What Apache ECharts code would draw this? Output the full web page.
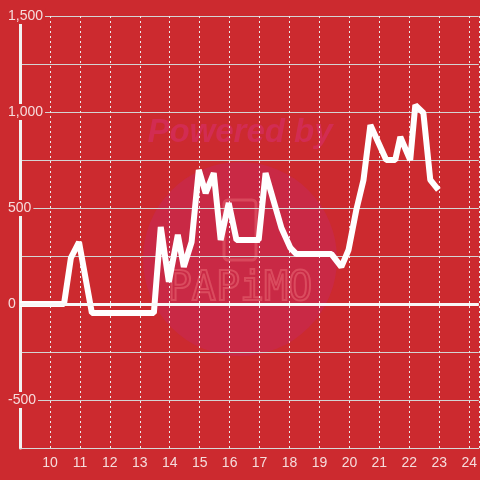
<!DOCTYPE html>
<html>
<head>
<meta charset="utf-8">
<script src="https://cdn.jsdelivr.net/npm/echarts@6/dist/echarts.min.js"></script>
<style>html,body{margin:0;padding:0;background:#cc2a2f;}#c{width:480px;height:480px;}</style>
</head>
<body>
<div id="c"></div>
<script>
var hours = [9.0, 10.47, 10.7, 10.97, 11.4, 13.47, 13.7, 13.97, 14.27, 14.47, 14.73, 14.97, 15.2, 15.47, 15.7, 15.97, 16.23, 16.97, 17.2, 17.73, 18.03, 18.23, 19.4, 19.73, 19.97, 20.23, 20.47, 20.7, 21.23, 21.53, 21.7, 22.03, 22.2, 22.47, 22.7, 22.97];
var values = [0, 0, 240, 323, -47, -47, 401, 115, 360, 193, 323, 698, 578, 682, 333, 526, 333, 333, 682, 396, 292, 260, 260, 193, 281, 490, 646, 932, 750, 750, 870, 750, 1036, 995, 646, 594];
var yTickLabels = {"1500": "1,500", "1000": "1,000", "500": "500", "0": "0", "-500": "-500"};
var xTickLabels = ["10", "11", "12", "13", "14", "15", "16", "17", "18", "19", "20", "21", "22", "23", "24"];

var seriesData = hours.map(function (h, i) { return [h, values[i]]; });
var chart = echarts.init(document.getElementById('c'), null, {renderer: 'canvas'});
var labelColor = '#f6dcdc';
chart.setOption({
  backgroundColor: '#cc2a2f',
  animation: false,
  grid: {left: 20, right: 0, top: 16, bottom: 32, containLabel: false},
  graphic: [
    {type: 'circle', z: -5, shape: {cx: 240, cy: 259, r: 97}, style: {fill: '#c92945'}},
    {type: 'text', z: -4, x: 240, y: 133, style: {text: 'Powered by', fill: '#d22c52', font: 'italic bold 33px "Liberation Sans", Arial, sans-serif', align: 'center', verticalAlign: 'middle'}},
    {type: 'rect', z: -4, shape: {x: 224, y: 200, width: 32, height: 60, r: 4}, style: {fill: 'none', stroke: 'rgba(235,110,120,0.45)', lineWidth: 3}},
    {type: 'text', z: -4, x: 240, y: 290, style: {text: 'PAPiMO', fill: 'none', stroke: 'rgba(235,110,120,0.5)', lineWidth: 2, font: '40px "DejaVu Sans Mono", monospace', align: 'center', verticalAlign: 'middle'}}
  ],
  xAxis: {
    type: 'value', min: 9, max: 24.32, interval: 1,
    axisLine: {show: true, onZero: false, lineStyle: {color: '#d8d8d8', width: 1}},
    axisTick: {show: false},
    axisLabel: {
      color: labelColor, fontSize: 14, fontFamily: '"Liberation Sans", Arial, sans-serif', margin: 8,
      showMinLabel: false, showMaxLabel: false,
      formatter: function (v) { var s = String(Math.round(v)); return (Math.abs(v - Math.round(v)) < 1e-6 && xTickLabels.indexOf(s) >= 0) ? s : ''; }
    },
    splitLine: {show: true, lineStyle: {color: '#ececec', type: [2, 3], width: 1}}
  },
  yAxis: {
    type: 'value', min: -750, max: 1500, interval: 250,
    axisLine: {show: true, lineStyle: {color: '#f2f2f2', width: 3}},
    axisTick: {show: false},
    axisLabel: {
      align: 'left', margin: 13, fontSize: 14, color: labelColor, fontFamily: '"Liberation Sans", Arial, sans-serif',
      formatter: function (v) { var t = yTickLabels[String(v)]; return t ? '{a|' + t + '}' : ''; },
      rich: {a: {color: labelColor, fontSize: 14, fontFamily: '"Liberation Sans", Arial, sans-serif', backgroundColor: '#cc2a2f', padding: [1, 2, 1, 1]}}
    },
    splitLine: {show: true, lineStyle: {color: '#d4d4d4', width: 1}}
  },
  series: [{
    type: 'line', data: seriesData, showSymbol: false, symbol: 'none',
    lineStyle: {color: '#ffffff', width: 6},
    markLine: {silent: true, symbol: 'none', label: {show: false}, data: [{yAxis: 0}], lineStyle: {color: '#f8f8f8', width: 3, type: 'solid'}}
  }]
});
</script>
</body>
</html>
